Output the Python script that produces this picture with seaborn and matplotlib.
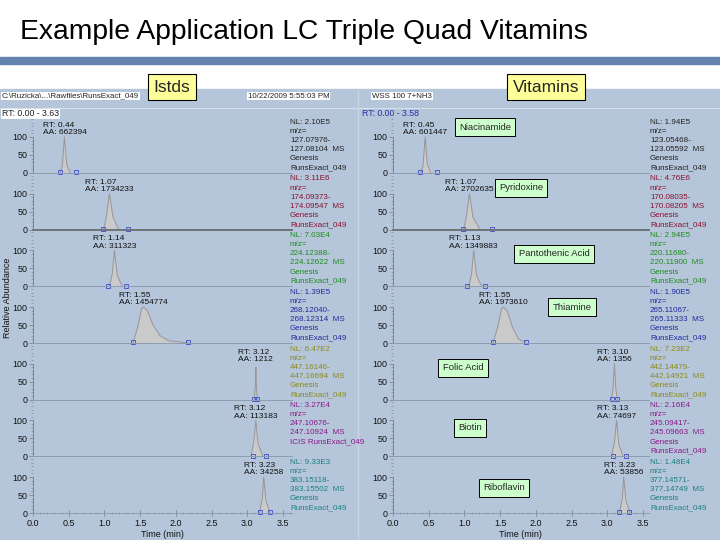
import numpy as np
import pandas as pd
import seaborn as sns
import matplotlib.pyplot as plt
from matplotlib.patches import Rectangle
from matplotlib.ticker import MultipleLocator

sns.set_theme(style='white')
plt.rcParams['font.family'] = ['Liberation Sans', 'DejaVu Sans']

# chromatogram data (left = internal standards, right = vitamins)
left_rt = [0.44, 1.07, 1.14, 1.55, 3.12, 3.12, 3.23]
left_aa = [662394, 1734233, 311323, 1454774, 1212, 113183, 34258]
left_nl = ['2.10E5', '3.11E6', '7.03E4', '1.39E5', '6.47E2', '3.27E4', '9.33E3']
left_mz_lo = ['127.07976', '174.09373', '224.12388', '268.12040', '447.16146', '247.10676', '383.15118']
left_mz_hi = ['127.08104', '174.09547', '224.12622', '268.12314', '447.16694', '247.10924', '383.15502']
left_filter = ['Genesis', 'Genesis', 'Genesis', 'Genesis', 'Genesis', 'ICIS', 'Genesis']
left_peak_t = [[0.38, 0.41, 0.44, 0.47, 0.52],
               [0.99, 1.03, 1.07, 1.12, 1.20],
               [1.07, 1.11, 1.14, 1.18, 1.25],
               [1.40, 1.46, 1.52, 1.55, 1.60, 1.68, 1.78, 1.90, 2.10, 2.17],
               [3.10, 3.115, 3.12, 3.125, 3.14],
               [3.05, 3.09, 3.12, 3.15, 3.22],
               [3.17, 3.21, 3.23, 3.26, 3.32]]
left_peak_y = [[0, 20, 100, 25, 0],
               [0, 40, 100, 35, 0],
               [0, 35, 100, 30, 0],
               [0, 40, 95, 100, 90, 50, 20, 6, 2, 1],
               [0, 50, 90, 50, 0],
               [0, 40, 100, 35, 0],
               [0, 40, 100, 35, 0]]
left_marks = [(0.38, 0.60), (0.98, 1.33), (1.05, 1.30), (1.40, 2.17),
              (3.10, 3.14), (3.08, 3.26), (3.18, 3.32)]

right_names = ['Niacinamide', 'Pyridoxine', 'Pantothenic Acid', 'Thiamine',
               'Folic Acid', 'Biotin', 'Riboflavin']
right_rt = [0.45, 1.07, 1.13, 1.55, 3.10, 3.13, 3.23]
right_aa = [601447, 2702635, 1349883, 1973610, 1356, 74697, 53856]
right_nl = ['1.94E5', '4.76E6', '2.94E5', '1.90E5', '7.23E2', '2.16E4', '1.48E4']
right_mz_lo = ['123.05468', '170.08035', '220.11680', '265.11067', '442.14479', '245.09417', '377.14571']
right_mz_hi = ['123.05592', '170.08205', '220.11900', '265.11333', '442.14921', '245.09663', '377.14749']
right_filter = ['Genesis'] * 7
right_peak_t = [[0.39, 0.42, 0.45, 0.48, 0.53],
                [0.99, 1.03, 1.07, 1.12, 1.22],
                [1.06, 1.10, 1.13, 1.17, 1.24],
                [1.40, 1.46, 1.52, 1.55, 1.60, 1.68, 1.76, 1.86],
                [3.06, 3.08, 3.10, 3.12, 3.14],
                [3.06, 3.10, 3.13, 3.16, 3.22],
                [3.17, 3.21, 3.23, 3.26, 3.32]]
right_peak_y = [[0, 20, 100, 25, 0],
                [0, 40, 100, 35, 0],
                [0, 35, 100, 30, 0],
                [0, 40, 95, 100, 88, 40, 10, 2],
                [0, 30, 100, 30, 0],
                [0, 40, 100, 35, 0],
                [0, 40, 100, 35, 0]]
right_marks = [(0.38, 0.62), (0.98, 1.39), (1.04, 1.29), (1.40, 1.86),
               (3.06, 3.14), (3.08, 3.26), (3.17, 3.31)]
right_label_pos = [(485, 127), (521, 188), (554, 254), (572, 307),
                   (463, 368), (470, 428), (504, 488)]

row_colors = ['#222222', '#8b1030', '#1f8a1f', '#1c2c9c', '#8a8a1a', '#8a1a8a', '#1a8080']

W, H = 720, 540
fig = plt.figure(figsize=(7.2, 5.4), dpi=100)


def fx(x):
    return x / W


def fy(y):
    return 1 - y / H


# slide decoration
fig.text(fx(20), fy(32), 'Example Application LC Triple Quad Vitamins',
         fontsize=20.3, va='center', ha='left', color='black')
fig.patches.append(Rectangle((0, fy(64)), 1, 7 / H, transform=fig.transFigure,
                             color='#6283ad', zorder=-2))
fig.patches.append(Rectangle((0, 0), 1, fy(89), transform=fig.transFigure,
                             color='#b6c6da', zorder=-2))
fig.lines.append(plt.Line2D([0, 1], [fy(108), fy(108)], transform=fig.transFigure,
                            color='#d6e0ec', lw=0.8, zorder=-1))
fig.lines.append(plt.Line2D([fx(358), fx(358)], [0, fy(89)], transform=fig.transFigure,
                            color='#c8d4e2', lw=1, zorder=-1))

small = dict(fontsize=5.7, color='#222222')
wbox = dict(boxstyle='square,pad=0.1', fc='white', ec='none')
fig.text(fx(2), fy(96), 'C:\\Ruzicka\\...\\Rawfiles\\RunsExact_049', va='center', bbox=wbox, **small)
fig.text(fx(248), fy(96), '10/22/2009 5:55:03 PM', va='center', bbox=wbox, **small)
fig.text(fx(372), fy(96), 'WSS 100 7+NH3', va='center', bbox=wbox, **small)
fig.text(fx(2), fy(114), 'RT: 0.00 - 3.63', va='center', fontsize=6.3, color='#222222', bbox=wbox)
fig.text(fx(362), fy(114), 'RT: 0.00 - 3.58', va='center', fontsize=6.3, color='#2030a0')

ybox = dict(boxstyle='square,pad=0.32', fc='#ffff99', ec='black', lw=0.8)
fig.text(fx(172), fy(87), 'Istds', ha='center', va='center', fontsize=12.5, bbox=ybox)
fig.text(fx(546), fy(87), 'Vitamins', ha='center', va='center', fontsize=12.5, bbox=ybox)

px_per_min = 250 / 3.5
row_h = 56.67
baselines = [173 + i * row_h for i in range(7)]
y_top = 100 * row_h / 36


def draw_panel(x0, xmax, rts, aas, nls, mz_lo, mz_hi, filters, peak_t, peak_y, marks, text_x):
    x1 = x0 + xmax * px_per_min
    for i in range(7):
        base = baselines[i]
        ax = fig.add_axes([fx(x0), fy(base), (x1 - x0) / W, row_h / H])
        ax.set_facecolor('none')
        df = pd.DataFrame({'t': peak_t[i], 'y': peak_y[i]})
        ax.fill_between(df['t'], df['y'], color='#cacaca', lw=0)
        sns.lineplot(data=df, x='t', y='y', ax=ax, color='#969696', lw=0.7)
        ax.plot(marks[i], [2, 2], 's', mfc='none', mec='#4a5ad0', ms=3.0, mew=0.7, clip_on=False)
        ax.set_xlim(0, xmax)
        ax.set_ylim(0, y_top)
        ax.set_xlabel('')
        ax.set_ylabel('')
        for s in ['top', 'right']:
            ax.spines[s].set_visible(False)
        ax.spines['left'].set_bounds(0, 100)
        ax.spines['left'].set_color('#707a88')
        ax.spines['left'].set_linewidth(0.6)
        if i == 1:
            ax.spines['bottom'].set_color('#6e737a')
            ax.spines['bottom'].set_linewidth(1.4)
        else:
            ax.spines['bottom'].set_color('#8e9cb0')
            ax.spines['bottom'].set_linewidth(0.7)
        ax.set_yticks([0, 50, 100])
        ax.yaxis.set_minor_locator(MultipleLocator(10))
        ax.tick_params(axis='y', which='major', left=True, length=3, width=0.5,
                       color='#707a88', labelsize=6.4, pad=1, labelcolor='#111111')
        ax.tick_params(axis='y', which='minor', left=True, length=1.5, width=0.4, color='#707a88')
        if i == 6:
            ax.set_xticks(np.arange(0, 3.51, 0.5))
            ax.set_xticklabels([f'{v:.1f}' for v in np.arange(0, 3.51, 0.5)])
            ax.xaxis.set_minor_locator(MultipleLocator(0.1))
            ax.tick_params(axis='x', which='major', bottom=True, direction='inout', length=4,
                           width=0.5, color='#707a88', labelsize=6.5, pad=2.5, labelcolor='#111111')
            ax.tick_params(axis='x', which='minor', bottom=True, direction='inout', length=2,
                           width=0.4, color='#707a88')
            ax.set_xlabel('Time (min)', fontsize=6.5, labelpad=1.5, color='#111111')
        else:
            ax.set_xticks([])
        ax.text(rts[i], 102, f'RT: {rts[i]:.2f}\nAA: {aas[i]}', ha='center', va='bottom',
                multialignment='left', fontsize=6.0, linespacing=1.05, color='#111111')
        lines = [f'NL: {nls[i]}', 'm/z=', f'{mz_lo[i]}-', f'{mz_hi[i]}  MS']
        if filters[i] == 'ICIS':
            lines.append('ICIS RunsExact_049')
        else:
            lines += [filters[i], 'RunsExact_049']
        fig.text(fx(text_x), fy(base - row_h + 2.5), '\n'.join(lines), ha='left', va='top',
                 fontsize=5.8, linespacing=1.42, color=row_colors[i])


draw_panel(33, 3.63, left_rt, left_aa, left_nl, left_mz_lo, left_mz_hi, left_filter,
           left_peak_t, left_peak_y, left_marks, 290)
draw_panel(393, 3.58, right_rt, right_aa, right_nl, right_mz_lo, right_mz_hi, right_filter,
           right_peak_t, right_peak_y, right_marks, 650)

fig.text(fx(8), fy(298), 'Relative Abundance', rotation=90, ha='center', va='center',
         fontsize=6.5, color='#111111')

gbox = dict(boxstyle='square,pad=0.45', fc='#ccffcc', ec='black', lw=0.7)
for name, (gx, gy) in zip(right_names, right_label_pos):
    fig.text(fx(gx), fy(gy), name, ha='center', va='center', fontsize=6.8, bbox=gbox)

fig.savefig('out.png', dpi=100)
